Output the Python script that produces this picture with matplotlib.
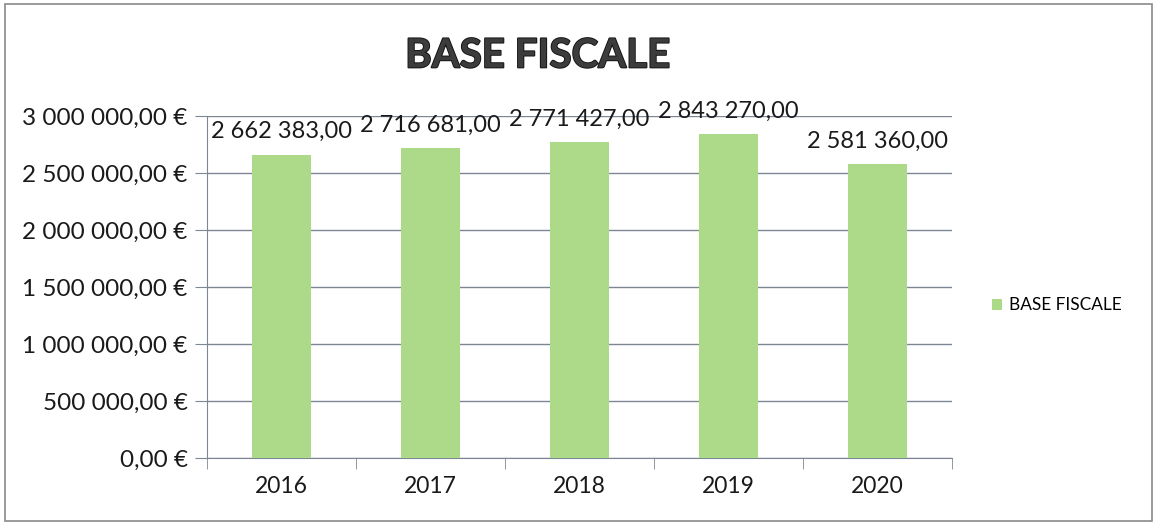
import matplotlib
matplotlib.use("Agg")
import matplotlib.pyplot as plt
import matplotlib.patheffects as pe
from matplotlib.patches import Rectangle
from matplotlib.ticker import FuncFormatter, MultipleLocator

annees = ["2016", "2017", "2018", "2019", "2020"]
base_fiscale = [2662383.00, 2716681.00, 2771427.00, 2843270.00, 2581360.00]

couleur_barre = "#acda88"
couleur_grille = "#7d8794"

plt.rcParams["font.family"] = ["Lato", "DejaVu Sans"]


def format_fr(v, euro=False):
    s = f"{v:,.2f}".replace(",", " ").replace(".", ",")
    return s + " €" if euro else s


fig = plt.figure(figsize=(11.54, 5.23), dpi=100)
ax = fig.add_axes([0.1794, 0.1243, 0.6456, 0.6535])

x = range(len(annees))
barres = ax.bar(x, base_fiscale, width=0.4, color=couleur_barre, label="BASE FISCALE", zorder=3)

ax.set_xlim(-0.5, len(annees) - 0.5)
ax.set_ylim(0, 3000000)
ax.yaxis.set_major_locator(MultipleLocator(500000))
ax.yaxis.set_major_formatter(FuncFormatter(lambda v, p: format_fr(v, euro=True)))
ax.grid(axis="y", color=couleur_grille, linewidth=1, zorder=0)

# étiquettes de catégories au centre, graduations aux limites
ax.set_xticks(list(x))
ax.set_xticklabels(annees, fontsize=16.5, color="#1a1a1a")
ax.set_xticks([i - 0.5 for i in range(len(annees) + 1)], minor=True)
ax.tick_params(axis="x", which="major", length=0, pad=13)
ax.tick_params(axis="x", which="minor", length=8, color=couleur_grille, direction="out")
ax.tick_params(axis="y", length=9, color=couleur_grille, labelsize=17.5, labelcolor="#1a1a1a", pad=5)

for side in ["top", "right"]:
    ax.spines[side].set_visible(False)
ax.spines["left"].set_color(couleur_grille)
ax.spines["bottom"].set_color(couleur_grille)

for b, v in zip(barres, base_fiscale):
    ax.annotate(format_fr(v), (b.get_x() + b.get_width() / 2, v),
                xytext=(0, 9), textcoords="offset points",
                ha="center", va="bottom", fontsize=17, color="#1a1a1a")

fig.text(0.466, 0.893, "BASE FISCALE", ha="center", va="center",
         fontsize=29, fontweight="bold", color="#3c3c3c",
         path_effects=[pe.withStroke(linewidth=1.3, foreground="#111111")])

fig.legend(handles=[barres], loc="center left", bbox_to_anchor=(0.846, 0.416),
           frameon=False, fontsize=12.4, handlelength=0.6, handleheight=0.6,
           handletextpad=0.4)

fig.patches.append(Rectangle((5 / 1154, 2 / 523), 1147 / 1154, 517 / 523,
                             transform=fig.transFigure, fill=False,
                             edgecolor="#8a8a8a", linewidth=1.2))

fig.savefig("out.png", dpi=100)
